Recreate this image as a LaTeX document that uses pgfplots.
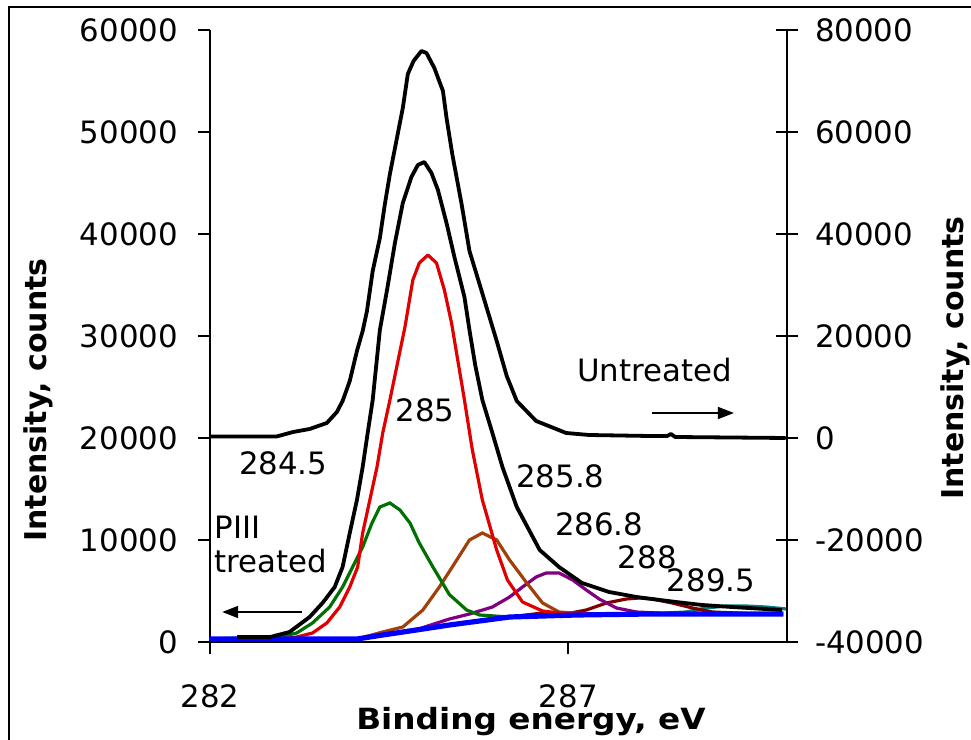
\documentclass[border=0pt]{standalone}
\usepackage{pgfplots}
\pgfplotsset{compat=1.18}
\usepackage{fontspec}
\setmainfont{DejaVu Sans}
\usetikzlibrary{arrows.meta}
\definecolor{cred}{RGB}{225,0,0}
\definecolor{cgreen}{RGB}{0,112,0}
\definecolor{cbrown}{RGB}{160,64,10}
\definecolor{cpurple}{RGB}{128,0,128}
\definecolor{cdred}{RGB}{128,0,0}
\definecolor{cteal}{RGB}{0,128,128}
\definecolor{cblue}{RGB}{0,0,255}
\begin{document}
\begin{tikzpicture}
\pgfplotsset{
  common/.style={
    scale only axis, width=288.5pt, height=306pt,
    xmin=282, xmax=290.05,
    /pgf/number format/1000 sep={},
    /pgf/number format/assume math mode=true,
    scaled ticks=false,
    ticklabel style={font=\fontsize{15.4}{18}\selectfont},
    axis line style={line width=0.9pt},
    every tick/.style={line width=0.9pt, black},
  }
}
\begin{axis}[common,
  axis y line*=left, axis x line*=bottom,
  ymin=0, ymax=60000, ytick={0,10000,20000,30000,40000,50000,60000},
  xtick={282,287},
  tick align=outside, major tick length=6pt,
  yticklabel style={xshift=-6.5pt},
  xticklabel style={inner sep=0pt, yshift=-15pt},
  clip=false,
]
% baseline components
\addplot[cteal, line width=1.6pt] coordinates {(288.36,2843)(288.64,2941)(288.92,3333)(289.20,3529)(289.48,3529)(289.76,3431)(290.04,3235)};
\addplot[cdred, line width=1.6pt] coordinates {(282.00,294)(284.05,294)(284.88,1176)(285.76,2059)(286.18,2451)(286.64,2843)(286.97,2750)(287.25,3137)(287.53,3824)(287.81,4216)(287.99,4314)(288.17,4216)(288.45,3824)(288.73,3333)(289.01,2941)(289.34,2843)(289.60,2745)};
\addplot[cpurple, line width=1.6pt] coordinates {(282.00,294)(284.05,294)(284.92,1300)(285.34,2255)(285.62,2745)(285.94,3431)(286.18,4412)(286.36,5392)(286.55,6373)(286.69,6765)(286.87,6765)(287.06,6078)(287.25,5098)(287.43,4216)(287.67,3333)(287.95,2941)(288.23,2843)(288.60,2745)};
\addplot[cbrown, line width=1.6pt] coordinates {(282.00,294)(284.05,294)(284.41,980)(284.69,1471)(284.97,3137)(285.20,5392)(285.38,7353)(285.62,10000)(285.80,10686)(286.00,10000)(286.18,8039)(286.42,5784)(286.64,3824)(286.87,2941)(287.06,2843)(287.40,2700)};
\addplot[cgreen, line width=1.6pt] coordinates {(282.00,294)(282.97,490)(283.21,882)(283.43,1863)(283.67,3431)(283.85,5392)(283.99,7353)(284.13,9314)(284.26,11667)(284.37,13235)(284.51,13627)(284.65,12941)(284.79,11667)(284.92,9706)(285.11,7353)(285.34,4650)(285.58,3137)(285.76,2647)(286.18,2451)};
\addplot[cred, line width=1.6pt, line join=round] coordinates {(282.00,294)(283.00,294)(283.21,490)(283.43,882)(283.63,1863)(283.81,3431)(283.95,5392)(284.06,7353)(284.13,10686)(284.23,13922)(284.33,17157)(284.41,20490)(284.51,23725)(284.72,30882)(284.83,35490)(284.92,37157)(285.04,37941)(285.16,37157)(285.27,34510)(285.37,31275)(285.55,23725)(285.66,18824)(285.80,13922)(286.00,9020)(286.15,6078)(286.36,3922)(286.64,3039)(286.87,2843)(287.50,2700)(290.00,2745)};
\addplot[cblue, line width=2.6pt] coordinates {(282.00,294)(284.05,294)(284.41,686)(284.88,1176)(285.34,1667)(285.76,2059)(286.18,2451)(287.11,2647)(288.13,2745)(290.00,2745)};
\addplot[black, line width=1.9pt, line join=round] coordinates {(282.38,490)(282.84,490)(283.11,980)(283.39,2451)(283.57,3824)(283.74,5392)(283.85,7353)(283.95,10686)(284.05,13922)(284.13,17157)(284.20,20490)(284.27,23725)(284.37,30588)(284.47,34510)(284.58,39118)(284.69,43039)(284.81,45588)(284.90,46765)(284.99,47059)(285.09,45980)(285.18,44314)(285.30,41078)(285.41,37745)(285.55,33824)(285.62,30588)(285.70,27157)(285.80,23725)(285.94,20490)(286.08,17157)(286.28,13235)(286.60,9020)(286.87,7353)(287.19,5784)(287.57,4902)(287.95,4412)(288.50,3922)(288.87,3627)(289.28,3431)(289.98,3137)};
% annotations
\node[font=\fontsize{15.4}{18}\selectfont] at (axis cs:288.2,26667) {Untreated};
\draw[line width=0.8pt, -{Triangle[length=8pt,width=6pt]}] (axis cs:288.16,22451) -- (axis cs:289.31,22451);
\node[font=\fontsize{15.4}{18}\selectfont] at (axis cs:285.0,22745) {285};
\node[font=\fontsize{15.4}{18}\selectfont] at (axis cs:283.02,17549) {284.5};
\node[font=\fontsize{15.4}{18}\selectfont] at (axis cs:286.89,16275) {285.8};
\node[font=\fontsize{15.4}{18}\selectfont] at (axis cs:287.43,11569) {286.8};
\node[font=\fontsize{15.4}{18}\selectfont] at (axis cs:288.10,8333) {288};
\node[font=\fontsize{15.4}{18}\selectfont] at (axis cs:288.99,6078) {289.5};
\node[font=\fontsize{15.4}{18}\selectfont, anchor=west, align=left, inner sep=0pt] at (axis cs:282.06,9608) {PIII\\[-1pt]treated};
\draw[line width=0.8pt, -{Triangle[length=8pt,width=6pt]}] (axis cs:283.28,2941) -- (axis cs:282.17,2941);
\end{axis}
\begin{axis}[common,
  axis y line*=right, axis x line=none,
  ymin=-40000, ymax=80000, ytick={-40000,-20000,0,20000,40000,60000,80000},
  tick align=center, major tick length=11pt,
  yticklabel style={xshift=5pt},
  clip=false,
]
\addplot[black, line width=1.9pt, line join=round] coordinates {(282.00,300)(282.93,300)(283.16,1176)(283.39,1765)(283.63,2941)(283.77,5098)(283.85,7255)(283.95,11176)(284.05,17059)(284.13,20980)(284.19,24902)(284.27,32745)(284.37,39216)(284.44,45882)(284.51,51765)(284.60,58235)(284.69,64706)(284.76,71373)(284.84,73922)(284.95,75882)(285.02,75490)(285.13,72549)(285.25,68039)(285.30,62745)(285.38,55686)(285.51,45882)(285.62,36667)(285.76,30196)(286.00,19020)(286.14,12157)(286.28,7255)(286.55,3333)(286.97,980)(287.29,588)(288.13,392)(288.38,392)(288.43,784)(288.49,196)(290.03,0)};
\end{axis}
% axis titles
\node[rotate=90, font=\bfseries\fontsize{15}{18}\selectfont] at (-86pt,121pt) {Intensity, counts};
\node[rotate=90, font=\bfseries\fontsize{15}{18}\selectfont] at (372.5pt,142pt) {Intensity, counts};
\node[font=\bfseries\fontsize{14.6}{17}\selectfont, anchor=base, inner sep=0pt] at (160.5pt,-44pt) {\scalebox{1.12}[1]{Binding energy, eV}};
% outer frame
\draw[line width=1pt] (-100.25pt,-49pt) -- (-100.25pt,317.5pt) -- (380.5pt,317.5pt);
\pgfresetboundingbox
\path[use as bounding box] (-105pt,-49pt) rectangle (380.5pt,321pt);
\end{tikzpicture}
\end{document}
